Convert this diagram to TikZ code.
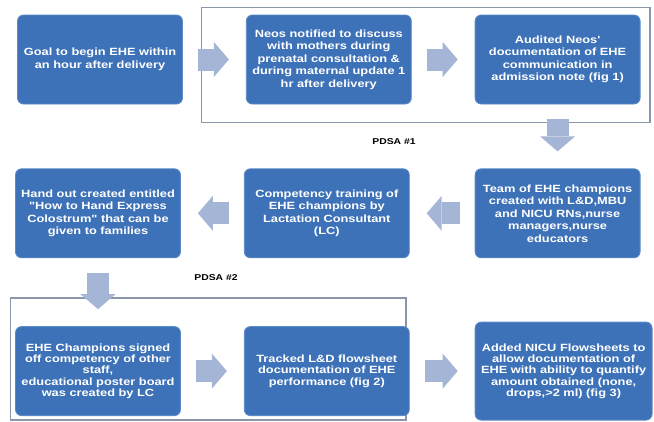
\documentclass[tikz,border=0pt]{standalone}
\usepackage{fontspec}
\setmainfont{Liberation Sans}
\newfontfamily\boxfont{Liberation Sans}[FakeStretch=1.22]
\usepackage{xcolor}
\usepackage{tikz}
\usetikzlibrary{arrows.meta,positioning,backgrounds}
\definecolor{boxblue}{HTML}{3D72B8}
\definecolor{boxedge}{HTML}{5B8BC8}
\definecolor{arrowblue}{HTML}{A4B5D6}
\definecolor{framegray}{HTML}{8A96AA}

\begin{document}
\begin{tikzpicture}[
  x=1pt, y=-1pt,
  stepbox/.style={rectangle, rounded corners=6pt, fill=boxblue, draw=boxedge, line width=0.8pt,
    text=white, minimum width=165pt, minimum height=89pt, inner sep=2pt, align=center,
    font=\boxfont\bfseries\fontsize{10.5}{12.5}\selectfont},
  lowbox/.style={stepbox, font=\boxfont\bfseries\fontsize{10.5}{11.3}\selectfont},
  blk/.style={line width=22pt, draw=arrowblue,
    -{Triangle[width=35pt 0 0, length=15pt 0 0, line width=0pt]}, shorten <=15pt, shorten >=17pt},
  pdsa/.style={font=\boxfont\bfseries\fontsize{8.5}{10}\selectfont},
  frame/.style={draw=framegray, line width=1.5pt}
]
  \useasboundingbox (0,0) rectangle (654,421);

  \node[stepbox] (goal) at (100,59.5) {Goal to begin EHE within\\an hour after delivery};
  \node[stepbox, right=63pt of goal] (notify) {Neos notified to discuss\\with mothers during\\prenatal consultation \&\\during maternal update 1\\hr after delivery};
  \node[stepbox, right=63pt of notify] (audit) {Audited Neos'\\documentation of EHE\\communication in\\admission note (fig 1)};

  \node[stepbox, below=64pt of audit] (team) {Team of EHE champions\\created with L\&D,MBU\\and NICU RNs,nurse\\managers,nurse\\educators};
  \node[stepbox, left=65pt of team] (train) {Competency training of\\EHE champions by\\Lactation Consultant\\(LC)};
  \node[stepbox, left=63pt of train] (handout) {Hand out created entitled\\"How to Hand Express\\Colostrum" that can be\\given to families};

  \node[lowbox, below=68pt of handout] (signoff) {EHE Champions signed\\off competency of other\\staff,\\educational poster board\\was created by LC};
  \node[lowbox, right=63pt of signoff] (tracked) {Tracked L\&D flowsheet\\documentation of EHE\\performance (fig 2)};
  \node[lowbox, right=65pt of tracked, minimum width=177pt, minimum height=98pt] (flowsheet) {Added NICU Flowsheets to\\allow documentation of\\EHE with ability to quantify\\amount obtained (none,\\drops,>2 ml) (fig 3)};

  \draw[blk] (goal) -- (notify);
  \draw[blk] (notify) -- (audit);
  \draw[blk] (audit) -- (team);
  \draw[blk] (team) -- (train);
  \draw[blk] (train) -- (handout);
  \draw[blk] (handout) -- (signoff);
  \draw[blk] (signoff) -- (tracked);
  \draw[blk] (tracked) -- (flowsheet);

  \node[pdsa] (pdsa1) at (394,142) {PDSA \#1};
  \node[pdsa] (pdsa2) at (216,278) {PDSA \#2};

  \begin{pgfonlayer}{background}
    \draw[frame] ([xshift=-44.5pt,yshift=7pt]notify.north west) rectangle ([xshift=9.5pt,yshift=-18pt]audit.south east);
    \draw[frame] ([xshift=-4.5pt,yshift=28pt]signoff.north west) rectangle ([xshift=-3.5pt,yshift=-4pt]tracked.south east);
  \end{pgfonlayer}
\end{tikzpicture}
\end{document}
